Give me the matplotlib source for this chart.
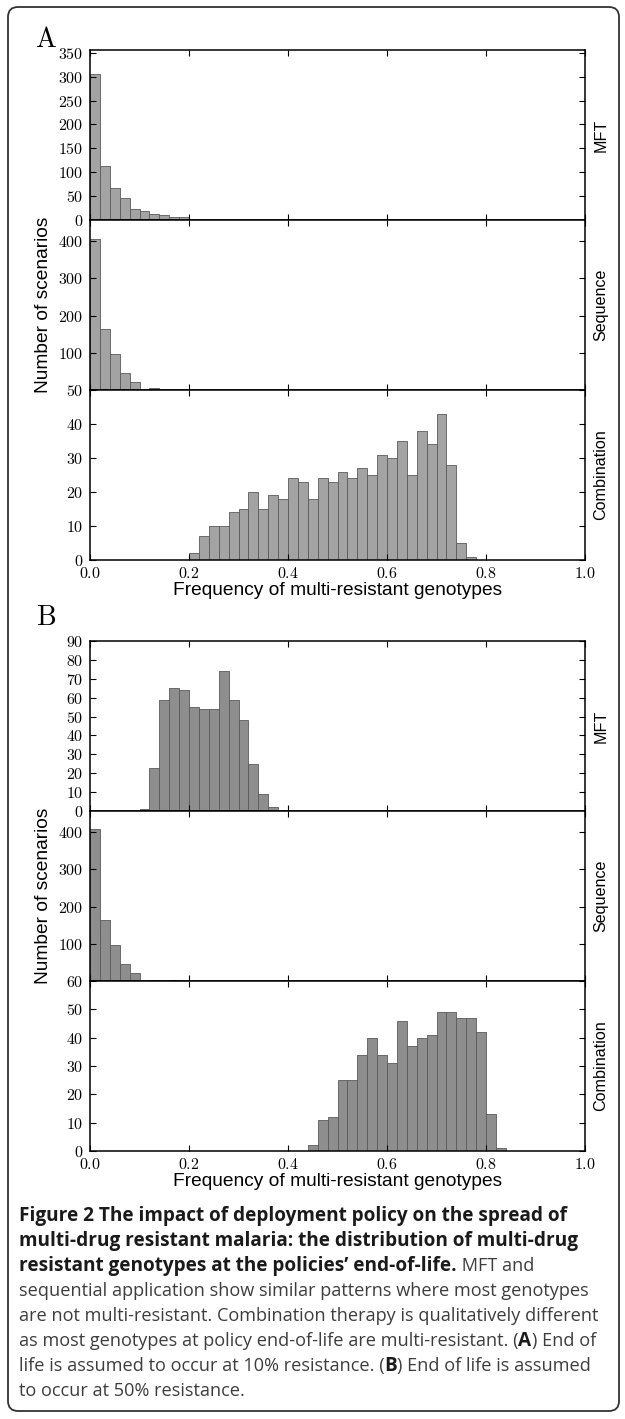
import numpy as np
import matplotlib
matplotlib.use("Agg")
import matplotlib.pyplot as plt
from matplotlib.ticker import FuncFormatter
from matplotlib.patches import FancyBboxPatch

plt.rcParams['mathtext.fontset'] = 'cm'
plt.rcParams['font.family'] = ['Liberation Sans', 'DejaVu Sans']

# histogram counts, one value per 0.02-wide bin starting at 0.0
bin_width = 0.02
mft_a = [305, 114, 68, 47, 22, 19, 13, 10, 6, 7]
seq_a = [407, 165, 97, 46, 22, 0, 5]
comb_a = [0] * 10 + [2, 7, 10, 10, 14, 15, 20, 15, 19, 18, 24, 23, 18, 24, 23,
                     26, 24, 27, 25, 31, 30, 35, 25, 38, 34, 43, 28, 5, 1]
mft_b = [0] * 5 + [1, 23, 59, 65, 64, 55, 54, 54, 74, 59, 48, 25, 9, 2]
seq_b = [409, 163, 98, 46, 22, 0, 4, 0, 2]
comb_b = [0] * 22 + [2, 11, 12, 25, 25, 34, 40, 34, 31, 46, 37, 40, 41, 49, 49,
                     47, 47, 42, 13, 1]

rows = ["MFT", "Sequence", "Combination"]
ylims_a = [356, 457, 50]
ylims_b = [90, 457, 60]
yticks_a = [np.arange(0, 351, 50), [100, 200, 300, 400], np.arange(0, 51, 10)]
yticks_b = [np.arange(0, 91, 10), [100, 200, 300, 400], np.arange(0, 61, 10)]
xticks = [0.0, 0.2, 0.4, 0.6, 0.8, 1.0]

W, H = 625, 1419
fig = plt.figure(figsize=(W / 100, H / 100), dpi=100)

def fy(px):
    return 1 - px / H

def draw_panel(series, ylims, yticks, top_px, color, letter, letter_px):
    axes = []
    for i, counts in enumerate(series):
        top = top_px + 170 * i
        ax = fig.add_axes([90 / W, fy(top + 170), 495 / W, 170 / H])
        edges = np.arange(len(counts) + 1) * bin_width
        ax.hist(edges[:-1], bins=edges, weights=counts, color=color,
                edgecolor='#5a5a5a', linewidth=0.6)
        ax.set_xlim(0, 1)
        ax.set_ylim(0, ylims[i])
        ax.set_yticks(yticks[i])
        ax.set_xticks(xticks)
        ax.tick_params(direction='in', top=True, right=True, length=4,
                       width=0.8, labelsize=11.5, pad=5)
        ax.yaxis.set_major_formatter(FuncFormatter(lambda v, p: '$%g$' % v))
        ax.xaxis.set_major_formatter(FuncFormatter(lambda v, p: '$%.1f$' % v))
        if i < 2:
            ax.tick_params(labelbottom=False)
        else:
            ax.tick_params(axis='x', pad=4)
            ax.set_xlabel('Frequency of multi-resistant genotypes', fontsize=13.8,
                          labelpad=1)
        for s in ax.spines.values():
            s.set_linewidth(1.1)
        ax.text(1.032, 0.5, rows[i], transform=ax.transAxes, rotation=90,
                ha='center', va='center', fontsize=11.6)
        axes.append(ax)
    fig.text(44 / W, fy(top_px + 255), 'Number of scenarios', rotation=90,
             ha='center', va='center', fontsize=13.8)
    fig.text(46 / W, fy(letter_px), '$\\mathrm{%s}$' % letter, ha='center',
             va='baseline', fontsize=20)
    return axes

draw_panel([mft_a, seq_a, comb_a], ylims_a, yticks_a, 50, '#a3a3a3', 'A', 47)
draw_panel([mft_b, seq_b, comb_b], ylims_b, yticks_b, 641, '#8e8e8e', 'B', 625)

# caption
cap = fig.add_axes([0, 0, 1, 1])
cap.axis('off')
cap.set_xlim(0, W)
cap.set_ylim(H, 0)

bold = dict(fontfamily='Open Sans', fontweight='bold', color='#1a1a1a', fontsize=13.7)
norm = dict(fontfamily='Open Sans', fontweight='normal', color='#3d3d3d', fontsize=13.1)
caption_lines = [
    [("Figure 2 The impact of deployment policy on the spread of", bold)],
    [("multi-drug resistant malaria: the distribution of multi-drug", bold)],
    [("resistant genotypes at the policies\u2019 end-of-life.", bold), (" MFT and", norm)],
    [("sequential application show similar patterns where most genotypes", norm)],
    [("are not multi-resistant. Combination therapy is qualitatively different", norm)],
    [("as most genotypes at policy end-of-life are multi-resistant. (", norm),
     ("A", bold), (") End of", norm)],
    [("life is assumed to occur at 10% resistance. (", norm), ("B", bold),
     (") End of life is assumed", norm)],
    [("to occur at 50% resistance.", norm)],
]
line_y = 1216
for line in caption_lines:
    prev = None
    for txt, style in line:
        if prev is None:
            prev = cap.text(19, line_y, txt, va='center', ha='left', **style)
        else:
            prev = cap.annotate(txt, xy=(1, 0.5), xycoords=prev, va='center',
                                ha='left', **style)
    line_y += 25

box = FancyBboxPatch((8 / W, 8 / H), 611 / W, 1404 / H,
                     boxstyle='round,pad=0,rounding_size=0.016',
                     transform=fig.transFigure, fill=False, edgecolor='#333333',
                     linewidth=1.3, mutation_aspect=W / H)
fig.add_artist(box)

fig.savefig('out.png', dpi=100)
